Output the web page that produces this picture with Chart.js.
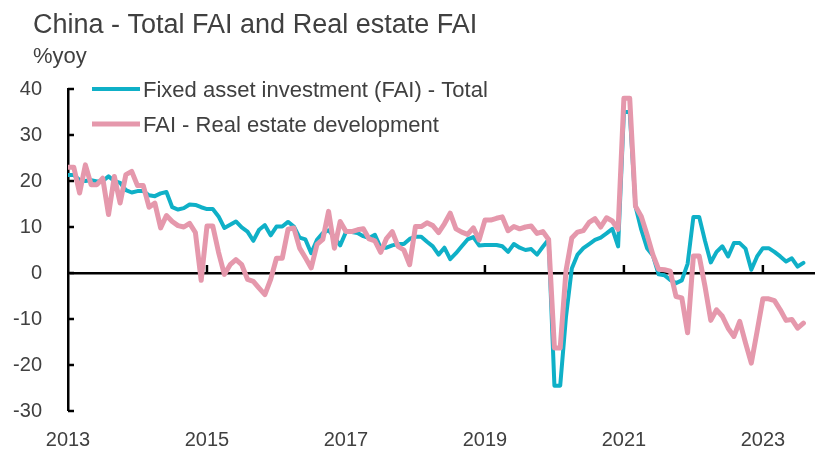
<!DOCTYPE html>
<html>
<head>
<meta charset="utf-8">
<script src="https://cdn.jsdelivr.net/npm/chart.js@4.4.0/dist/chart.umd.min.js"></script>
<style>
html,body{margin:0;padding:0;background:#fff;}
#wrap{position:relative;width:820px;height:455px;}
</style>
</head>
<body>
<div id="wrap"><canvas id="c" width="820" height="455"></canvas></div>
<script>
// ---- data (monthly, Jan 2013 - Aug 2023, %yoy) ----
const startYear = 2013;
const yearTicks = [2013, 2015, 2017, 2019, 2021, 2023];
const yTicks = [-30, -20, -10, 0, 10, 20, 30, 40];
const titleText = 'China - Total FAI and Real estate FAI';
const unitText = '%yoy';
const seriesNames = ['Fixed asset investment (FAI) - Total', 'FAI - Real estate development'];

const totalFAI = [
  21.3, 21.3, 20.2, 20.0, 20.2, 19.9, 20.0, 21.0, 20.0, 19.6, 18.0, 17.5,
  17.8, 17.8, 16.9, 16.7, 17.3, 17.6, 14.3, 13.8, 14.1, 14.9, 14.8, 14.3,
  13.9, 13.9, 12.3, 9.8, 10.5, 11.2, 9.9, 9.0, 7.0, 9.4, 10.4, 8.2,
  10.1, 10.1, 11.1, 10.1, 7.7, 7.3, 4.3, 7.2, 8.7, 9.3, 7.8, 6.0,
  8.9, 8.9, 8.7, 8.0, 7.6, 8.3, 5.5, 5.5, 6.0, 6.3, 6.3, 7.4,
  7.9, 7.9, 6.8, 5.8, 4.0, 5.5, 3.0, 4.3, 5.8, 7.3, 7.8, 6.0,
  6.1, 6.1, 6.1, 5.8, 4.6, 6.3, 5.5, 5.0, 5.2, 4.0, 5.7, 7.3,
  -24.5, -24.5, -9.5, 1.0, 4.0, 5.4, 6.3, 7.2, 7.7, 8.6, 9.6, 5.8,
  35.0, 35.0, 14.5, 9.4, 5.4, 3.8, -0.3, -0.5, -1.5, -2.2, -1.6, 2.0,
  12.2, 12.2, 7.0, 2.3, 4.6, 5.8, 3.6, 6.5, 6.5, 5.3, 0.7, 3.6,
  5.4, 5.4, 4.6, 3.6, 2.5, 3.2, 1.4, 2.2
];

const realEstateFAI = [
  23.0, 23.0, 17.4, 23.5, 19.2, 19.2, 20.6, 12.7, 21.0, 15.2, 21.4, 22.1,
  19.0, 19.0, 14.3, 15.2, 9.8, 12.5, 11.2, 10.3, 10.0, 10.8, 8.8, -1.6,
  10.2, 10.2, 4.5, -0.3, 1.8, 2.9, 1.8, -1.4, -1.8, -3.3, -4.7, -1.4,
  3.2, 3.2, 9.5, 9.8, 5.4, 3.3, 1.1, 6.2, 7.3, 13.4, 5.4, 11.2,
  9.0, 9.0, 9.4, 9.6, 7.4, 7.0, 4.5, 7.5, 9.0, 5.8, 5.0, 1.8,
  10.1, 10.1, 10.9, 10.3, 8.8, 10.7, 13.0, 9.6, 8.9, 8.4, 9.8, 7.2,
  11.5, 11.5, 11.9, 12.2, 9.2, 10.1, 9.6, 10.0, 10.2, 8.6, 9.0, 7.3,
  -16.3, -16.3, 0.5, 7.6, 8.9, 9.2, 11.0, 11.8, 10.0, 12.0, 11.3, 9.5,
  38.0, 38.0, 14.5, 12.3, 8.3, 4.0, 0.8, 0.7, 0.4, -5.1, -5.4, -13.0,
  3.7, 3.7, -2.9, -10.3, -8.0, -9.4, -12.0, -13.8, -10.5, -15.2, -19.6, -12.7,
  -5.6, -5.6, -6.0, -8.0, -10.3, -10.1, -12.0, -10.9
];

// month categories (index 0 = Jan 2013)
const months = totalFAI.map((_, i) =>
  (startYear + Math.floor(i / 12)) + '-' + String(i % 12 + 1).padStart(2, '0'));

// ---- style ----
const FONT = '"Liberation Sans", Arial, sans-serif';
const TEXT = '#404040';
const BLUE = '#0FB0C7';
const PINK = '#E598AC';
const AXIS_W = 2.5;

const decor = {
  id: 'decor',
  beforeDatasetsDraw(chart) {
    const {ctx, chartArea, scales: {x, y}} = chart;
    ctx.save();
    ctx.strokeStyle = '#000';
    ctx.lineWidth = AXIS_W;
    ctx.lineCap = 'butt';
    // inside tick marks on the value axis
    yTicks.forEach(v => {
      const py = Math.round(y.getPixelForValue(v)) ;
      ctx.beginPath();
      ctx.moveTo(chartArea.left, py);
      ctx.lineTo(chartArea.left + 6, py);
      ctx.stroke();
    });
    // tick marks on the zero line for the category axis
    const y0 = y.getPixelForValue(0);
    yearTicks.forEach(yr => {
      const px = x.getPixelForValue((yr - startYear) * 12);
      if (px <= chartArea.left + 2) return;
      ctx.beginPath();
      ctx.moveTo(px, y0);
      ctx.lineTo(px, y0 - 8);
      ctx.stroke();
    });
    ctx.restore();
  },
  afterDraw(chart) {
    const {ctx} = chart;
    ctx.save();
    ctx.fillStyle = TEXT;
    ctx.textAlign = 'left';
    ctx.textBaseline = 'alphabetic';
    ctx.font = '27px ' + FONT;
    ctx.fillText(titleText, 33, 33);
    ctx.font = '22px ' + FONT;
    ctx.fillText(unitText, 33, 63);
    // legend
    const items = [
      {name: seriesNames[0], color: BLUE, w: 4, y: 89},
      {name: seriesNames[1], color: PINK, w: 5, y: 124}
    ];
    items.forEach(it => {
      ctx.strokeStyle = it.color;
      ctx.lineWidth = it.w;
      ctx.lineCap = 'butt';
      ctx.beginPath();
      ctx.moveTo(92, it.y);
      ctx.lineTo(140, it.y);
      ctx.stroke();
      ctx.fillStyle = TEXT;
      ctx.font = '22px ' + FONT;
      ctx.fillText(it.name, 143, it.y + 8);
    });
    ctx.restore();
  }
};

new Chart(document.getElementById('c').getContext('2d'), {
  type: 'line',
  data: {
    labels: months,
    datasets: [
      {
        label: seriesNames[0],
        data: totalFAI.map((v, i) => ({x: i, y: v})),
        borderColor: BLUE, backgroundColor: BLUE,
        borderWidth: 4, pointRadius: 0, tension: 0, fill: false,
        borderJoinStyle: 'round', borderCapStyle: 'round', order: 1
      },
      {
        label: seriesNames[1],
        data: realEstateFAI.map((v, i) => ({x: i, y: v})),
        borderColor: PINK, backgroundColor: PINK,
        borderWidth: 5, pointRadius: 0, tension: 0, fill: false,
        borderJoinStyle: 'round', borderCapStyle: 'round', order: 0
      }
    ]
  },
  options: {
    responsive: false,
    animation: false,
    devicePixelRatio: 1,
    layout: {padding: {top: 89, right: 5, bottom: 0, left: 0}},
    plugins: {
      legend: {display: false},
      tooltip: {enabled: false},
      title: {display: false}
    },
    scales: {
      x: {
        type: 'linear',
        min: 0,
        max: 129,
        afterBuildTicks: s => { s.ticks = yearTicks.map(yr => ({value: (yr - startYear) * 12})); },
        afterFit: s => { s.height = 44; },
        ticks: {
          callback: v => String(startYear + Math.round(v / 12)),
          font: {family: FONT, size: 20},
          color: TEXT,
          padding: 17,
          maxRotation: 0,
          autoSkip: false
        },
        grid: {display: false, drawTicks: false},
        border: {display: false}
      },
      y: {
        min: -30,
        max: 40,
        afterFit: s => { s.width = 68; },
        afterBuildTicks: s => { s.ticks = yTicks.map(v => ({value: v})); },
        ticks: {
          font: {family: FONT, size: 20},
          color: TEXT,
          padding: 26
        },
        grid: {
          drawTicks: false,
          color: c => (c.tick && c.tick.value === 0) ? '#000' : 'rgba(0,0,0,0)',
          lineWidth: c => (c.tick && c.tick.value === 0) ? AXIS_W : 0
        },
        border: {display: true, color: '#000', width: AXIS_W}
      }
    }
  },
  plugins: [decor]
});
</script>
</body>
</html>
